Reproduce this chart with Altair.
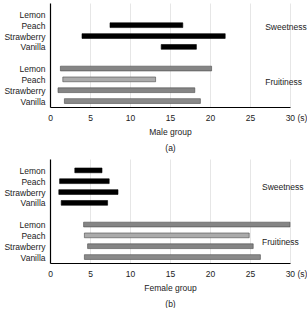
import altair as alt
import pandas as pd

flavours = ["Lemon", "Peach", "Strawberry", "Vanilla"]
attributes = ["Sweetness", "Fruitiness"]

# start / end of each perceived attribute (seconds)
male_sweet_start = [None, 7.5, 4.0, 13.9]
male_sweet_end = [None, 16.6, 21.9, 18.3]
male_fruit_start = [1.3, 1.6, 1.0, 1.8]
male_fruit_end = [20.2, 13.2, 18.1, 18.8]

female_sweet_start = [3.1, 1.2, 1.1, 1.4]
female_sweet_end = [6.5, 7.4, 8.5, 7.2]
female_fruit_start = [4.2, 4.3, 4.7, 4.3]
female_fruit_end = [30.0, 24.9, 25.4, 26.3]

fruit_fill = ["#858585", "#ababab", "#858585", "#8a8a8a"]

x_ticks = [0, 5, 10, 15, 20, 25, 30]
row_values = [0, 1, 2, 3, 5, 6, 7, 8]

FONT = "Liberation Sans"


def rows(sw_start, sw_end, fr_start, fr_end):
    recs = []
    for i, f in enumerate(flavours):
        if sw_start[i] is not None:
            recs.append({"flavour": f, "attr": "Sweetness", "row": i,
                         "start": sw_start[i], "end": sw_end[i],
                         "fill": "#000000", "stroke": "#000000"})
    for i, f in enumerate(flavours):
        recs.append({"flavour": f, "attr": "Fruitiness", "row": i + 5,
                     "start": fr_start[i], "end": fr_end[i],
                     "fill": fruit_fill[i], "stroke": "#4a4a4a"})
    return pd.DataFrame(recs)


label_expr = "{'0':'Lemon','1':'Peach','2':'Strawberry','3':'Vanilla','5':'Lemon','6':'Peach','7':'Strawberry','8':'Vanilla'}[''+datum.value]"


def panel(df, group_title, tag, sweet_row, fruit_row, label_x):
    x_scale = alt.Scale(domain=[0, 30], nice=False)
    y_scale = alt.Scale(domain=[-1.05, 8.55], reverse=True, nice=False, zero=False)
    x_axis = alt.Axis(
        values=x_ticks, grid=True, gridColor="#e6e6e6", gridWidth=1,
        ticks=False, domainColor="#000000", domainWidth=1.2,
        labelOverlap=False, labelFlush=False,
        labelFont=FONT, labelFontSize=8.5, labelColor="#222222", labelPadding=6,
        labelExpr="datum.value == 30 ? '30 (s)' : datum.label",
        labelOffset={"condition": {"test": "datum.value == 30", "value": 6}, "value": 0},
        title=[group_title, tag], titleFont=FONT, titleFontSize=8.5,
        titleFontWeight="normal", titleColor="#222222", titlePadding=6,
        titleLineHeight=16,
    )
    y_axis = alt.Axis(
        values=row_values, labelExpr=label_expr, grid=False, ticks=False,
        labelOverlap=False, labelFlush=False,
        domainColor="#000000", domainWidth=1.2, labelFont=FONT,
        labelFontSize=8.5, labelColor="#222222", labelPadding=5, title=None,
    )
    bars = alt.Chart(df).transform_calculate(
        y0="datum.row - 0.22", y1="datum.row + 0.22"
    ).mark_rect(strokeWidth=0.6).encode(
        x=alt.X("start:Q", scale=x_scale, axis=x_axis),
        x2="end:Q",
        y=alt.Y("y0:Q", scale=y_scale, axis=y_axis),
        y2="y1:Q",
        fill=alt.Fill("fill:N", scale=None),
        stroke=alt.Stroke("stroke:N", scale=None),
    )
    lab_df = pd.DataFrame({"text": attributes, "row": [sweet_row, fruit_row],
                           "x": [label_x, label_x]})
    labels = alt.Chart(lab_df).mark_text(
        align="left", baseline="middle", font=FONT, fontSize=8.5, color="#222222"
    ).encode(
        x=alt.X("x:Q", scale=x_scale, axis=x_axis),
        y=alt.Y("row:Q", scale=y_scale, axis=y_axis),
        text="text:N",
    )
    return (bars + labels).properties(width=240, height=104)


male = panel(rows(male_sweet_start, male_sweet_end, male_fruit_start, male_fruit_end),
             "Male group", "(a)", 1.2, 6.2, 26.9)
female = panel(rows(female_sweet_start, female_sweet_end, female_fruit_start, female_fruit_end),
               "Female group", "(b)", 1.5, 6.6, 26.5)

chart = alt.vconcat(male, female, spacing=7).properties(
    padding={"left": 3, "top": 3, "right": 0, "bottom": 0},
    background="white",
).configure_view(stroke=None)

chart.save("out.html", embed_options={"renderer": "svg", "actions": False})
